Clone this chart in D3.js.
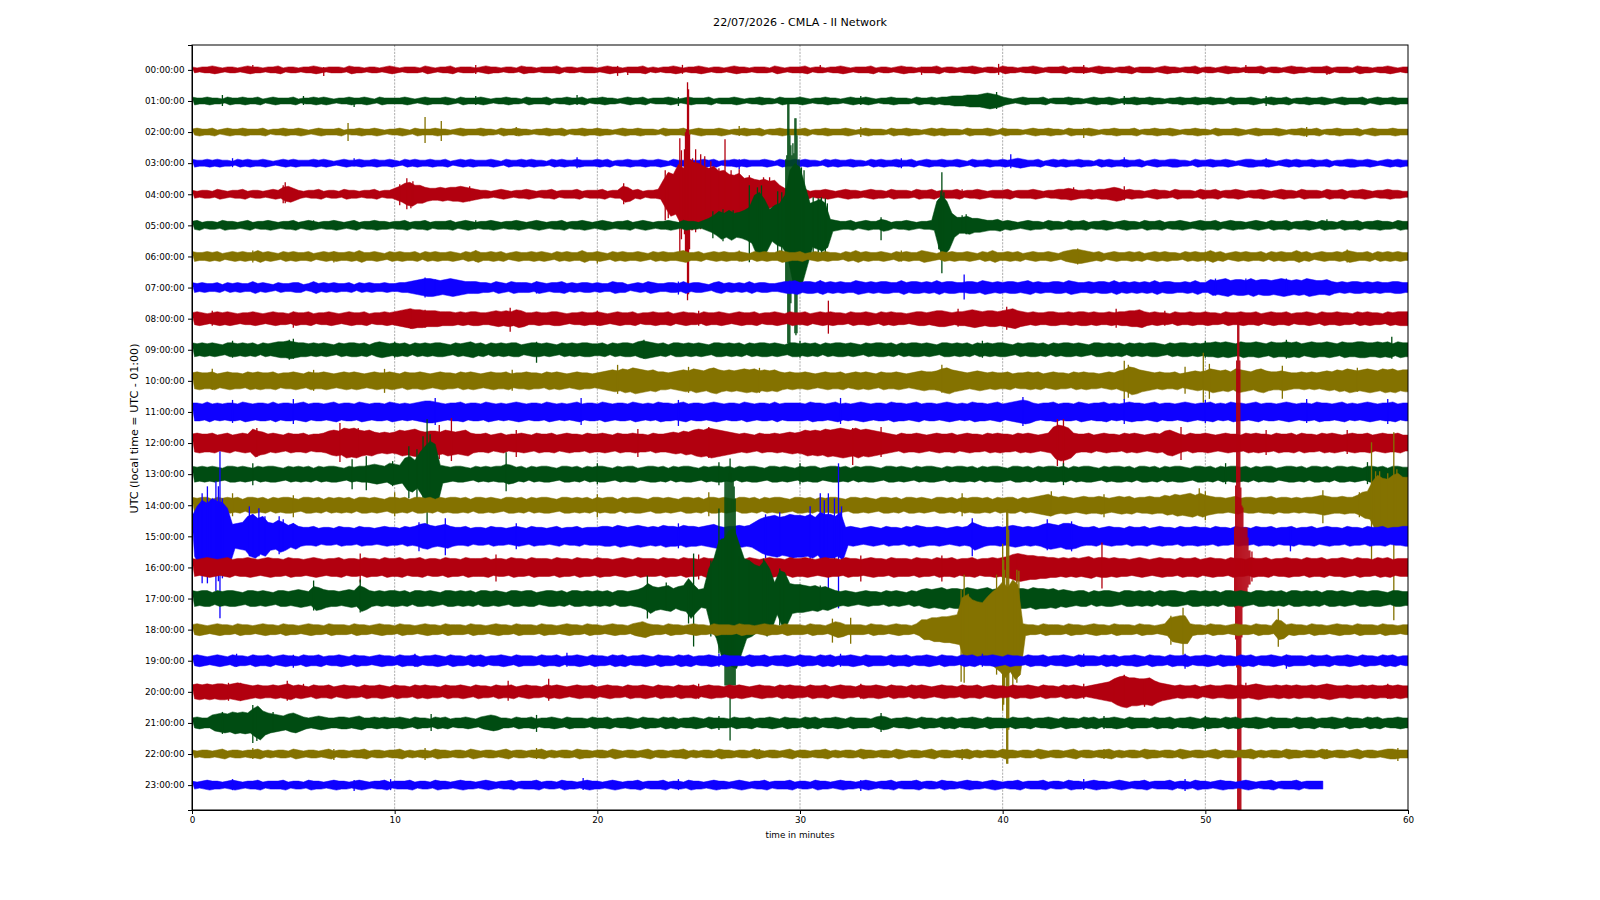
<!DOCTYPE html>
<html>
<head>
<title>CMLA dayplot</title>
<style>
	body { margin: 0; background: #fff; }
	text { font-family: "DejaVu Sans", sans-serif; fill: #000; }
	.tick line, .domain { stroke: #000; }
	.grid line { stroke: #9a9a9a; stroke-width: 0.8; stroke-dasharray: 2.2 1.2; }
</style>
</head>
<body>
<svg id="svg" width="1600" height="900"></svg>
<script src="https://d3js.org/d3.v7.min.js"></script>
<script>
const title = '22/07/2026 - CMLA - II Network'
const xLabel = 'time in minutes'
const yLabel = 'UTC (local time = UTC - 01:00)'
const hourLabels = ['00:00:00','01:00:00','02:00:00','03:00:00','04:00:00','05:00:00','06:00:00','07:00:00','08:00:00','09:00:00','10:00:00','11:00:00','12:00:00','13:00:00','14:00:00','15:00:00','16:00:00','17:00:00','18:00:00','19:00:00','20:00:00','21:00:00','22:00:00','23:00:00']
const minuteTicks = [0, 10, 20, 30, 40, 50, 60]
const traceColors = ['#B2000F', '#004C12', '#847200', '#0E01FF']

// half width of each hour's trace:
// one row per ten minutes, one value per quarter minute
const amp00 = [
[3,2,3,3,4,3,2,3,3,2,3,4,3,3,2,3,3,4,2,3,3,2,3,3,4,3,2,3,3,3,2,4,3,3,2,3,3,2,3,4],
[3,2,3,3,3,2,4,3,2,3,3,4,2,3,3,3,2,3,4,3,3,2,3,3,2,4,3,3,2,3,3,3,4,2,3,3,2,3,3,3],
[2,3,4,3,3,2,3,3,3,4,2,3,2,3,3,4,3,2,3,3,4,3,2,3,3,2,3,4,3,3,2,3,3,3,2,4,3,2,3,3],
[3,4,2,3,3,2,3,3,4,3,2,3,3,3,4,2,3,3,2,3,4,3,3,2,3,3,3,4,2,3,3,2,3,3,4,3,2,3,3,2],
[4,3,3,2,3,3,4,3,2,3,3,3,4,2,3,3,3,2,3,4,3,3,2,3,3,4,2,3,3,3,2,3,4,3,3,2,3,3,4,2],
[3,3,2,3,4,3,3,2,3,3,3,4,2,3,3,2,3,4,3,3,2,3,3,3,4,2,3,3,3,2,4,3,3,2,3,3,4,3,2,3]]
const amp01 = [
[4,3,3,4,3,3,2,4,3,3,4,3,3,4,2,3,4,3,3,3,4,2,3,3,4,3,4,3,2,3,3,4,3,3,4,3,2,4,3,3],
[3,3,4,3,2,3,4,3,3,3,4,3,2,4,3,3,3,4,3,2,3,3,4,3,3,2,4,3,3,3,4,2,3,3,4,3,3,4,2,3],
[3,4,3,3,2,3,4,3,3,4,2,3,3,3,4,3,2,3,4,3,3,3,4,2,3,3,3,4,3,2,3,3,4,3,3,2,4,3,3,3],
[4,3,2,3,3,4,3,3,2,3,4,3,3,4,3,2,3,3,4,3,3,3,2,4,3,3,4,3,4,4,5,5,5,6,6,6,7,8,7,6],
[4,3,2,3,4,3,3,3,4,2,3,3,3,4,3,3,2,3,4,3,3,4,3,2,3,3,4,3,3,4,3,3,2,3,3,4,3,3,4,3],
[3,4,3,3,2,4,3,3,3,4,3,2,3,4,3,3,4,2,3,3,4,3,3,4,3,2,3,4,3,3,3,4,2,3,4,3,3,4,3,3]]
const amp02 = [
[3,4,3,3,4,2,3,4,3,3,4,3,3,3,4,2,3,3,4,3,3,4,3,2,3,4,3,3,3,4,2,3,3,4,3,3,4,3,2,3],
[3,4,3,2,4,3,3,3,4,3,3,2,3,4,3,3,3,4,3,3,2,4,3,3,4,3,3,2,3,3,4,3,3,4,2,3,3,4,3,3],
[4,3,3,2,3,4,3,3,4,3,3,3,2,4,3,3,3,4,2,3,4,3,3,3,4,3,2,3,3,4,3,3,4,2,3,3,4,3,3,3],
[3,4,2,3,3,4,3,3,3,4,3,2,3,4,3,3,3,2,4,3,3,4,3,3,2,3,4,3,4,3,3,3,2,4,3,3,3,4,3,2],
[4,3,3,3,2,3,4,3,3,4,3,3,2,4,3,3,3,4,3,2,3,3,4,3,3,3,4,2,3,3,4,3,3,4,3,2,3,3,4,3],
[3,2,4,3,3,3,4,3,2,3,4,3,3,3,4,3,2,3,3,4,3,3,4,2,3,3,4,3,3,3,4,2,3,4,3,3,3,4,3,3]]
const amp03 = [
[4,3,3,4,3,4,3,3,2,4,3,4,3,3,4,3,2,3,4,3,4,3,3,3,4,3,4,3,2,3,4,3,3,4,3,3,4,3,3,4],
[3,2,4,3,4,3,3,4,3,3,4,2,3,4,3,4,3,3,3,4,3,2,4,3,3,4,3,4,3,3,2,4,3,4,3,3,4,3,3,3],
[4,3,4,2,3,3,4,3,3,4,3,3,4,3,2,4,3,3,4,3,3,4,3,4,2,3,3,4,3,4,3,3,3,4,3,2,4,3,3,4],
[3,4,3,3,2,4,3,4,3,3,4,3,3,2,4,3,4,3,3,4,3,3,4,2,3,4,3,3,4,3,3,4,3,2,4,3,3,4,3,3],
[4,3,4,5,4,3,3,4,2,3,4,3,4,3,3,4,3,3,2,4,3,4,3,3,4,3,3,4,2,3,4,3,3,4,4,3,3,2,4,3],
[3,4,3,3,4,3,2,3,4,4,3,3,4,3,2,3,4,3,4,3,3,4,3,3,4,2,3,3,4,4,3,3,4,3,2,3,4,3,4,3]]
const amp04 = [
[4,3,4,4,3,5,4,3,4,4,5,3,4,4,3,4,5,4,7,8,6,4,3,4,4,5,3,4,4,3,5,4,4,3,4,4,5,3,4,4],
[6,8,11,12,9,9,7,6,6,7,6,7,7,8,7,6,5,4,4,3,4,5,4,3,4,4,5,4,3,4,4,5,3,4,4,4,5,3,4,4],
[4,5,3,4,4,8,7,4,5,3,4,4,5,14,22,20,30,26,36,32,31,28,26,28,23,24,20,19,21,16,17,15,14,15,13,14,9,6,5,4],
[4,5,3,4,4,5,4,3,4,5,4,4,3,4,5,4,4,3,5,4,4,4,3,5,4,4,5,3,4,4,4,5,3,4,4,5,4,3,4,4],
[4,5,3,4,4,4,5,4,3,4,4,5,5,6,5,4,4,5,4,5,5,6,7,6,4,5,4,4,3,4,5,4,4,3,5,4,4,4,3,5],
[4,4,5,3,4,4,5,4,3,4,4,5,4,3,4,5,4,4,3,5,4,4,4,3,5,4,4,5,3,4,4,5,4,3,4,4,5,4,4,3]]
const amp05 = [
[4,5,3,4,4,3,5,4,4,3,4,5,3,4,4,5,4,3,4,4,5,3,4,5,4,3,4,4,5,4,3,4,5,3,4,4,5,4,4,3],
[4,4,5,3,4,4,5,3,4,4,4,5,3,4,5,4,3,4,4,5,4,3,4,4,5,4,3,4,5,4,3,4,4,5,3,4,4,5,4,3],
[4,5,4,3,4,4,5,3,4,5,4,3,4,4,5,4,3,5,4,4,3,5,7,10,14,12,15,12,13,15,18,30,33,26,16,20,22,30,55,62],
[58,40,22,24,26,22,6,5,4,4,5,3,4,5,4,4,6,5,3,4,4,5,4,3,4,4,5,24,30,24,12,8,8,9,7,7,6,5,5,6],
[4,5,4,3,4,5,4,4,3,5,4,4,3,5,4,4,5,3,4,4,5,4,3,4,5,4,4,3,5,4,4,5,3,4,4,5,4,3,4,5],
[4,4,5,3,4,5,4,4,3,4,5,4,3,5,4,4,5,3,4,4,5,4,3,5,4,4,3,5,4,4,5,3,4,4,5,4,4,3,5,4]]
const amp06 = [
[5,4,4,5,4,5,3,4,5,4,5,4,4,6,4,5,4,3,5,4,5,4,4,5,3,4,5,4,5,4,4,5,4,6,4,4,5,4,3,5],
[4,5,4,4,5,3,5,4,5,4,4,5,4,3,5,4,6,4,4,5,4,5,3,4,5,4,4,5,4,5,4,3,5,4,5,4,4,6,4,4],
[5,4,3,5,4,5,4,4,5,4,3,5,4,5,4,4,5,6,4,4,5,3,4,5,4,5,4,4,5,4,3,5,4,5,4,4,6,5,4,4],
[5,3,4,5,4,5,4,4,3,5,4,6,4,5,4,4,5,4,3,5,4,5,4,4,6,5,4,3,5,4,5,4,4,5,4,3,5,4,6,4],
[4,5,4,5,3,4,5,4,4,5,4,3,5,6,7,7,6,5,4,5,3,4,5,4,4,5,4,5,3,4,5,4,5,4,4,3,5,4,5,4],
[4,6,4,5,3,4,5,4,5,4,4,5,3,5,4,5,4,4,6,4,5,3,4,5,4,4,5,4,6,5,4,4,5,3,5,4,5,4,5,4]]
const amp07 = [
[5,4,5,4,4,5,3,5,4,5,4,4,6,4,5,4,3,5,4,4,5,5,3,4,6,4,5,4,5,4,4,5,3,5,4,5,4,4,5,4],
[4,5,5,6,7,8,9,9,8,7,8,9,8,7,6,6,6,5,5,4,6,5,4,6,5,5,5,4,6,5,4,5,5,6,4,5,4,5,5,4],
[5,4,4,6,5,5,3,4,5,4,6,5,4,4,5,5,4,6,4,5,5,4,3,5,6,4,5,4,5,4,6,4,5,5,4,4,5,6,6,7],
[5,6,6,5,7,5,6,5,6,5,5,7,6,5,6,5,6,6,5,5,7,5,6,6,5,6,5,7,5,6,6,5,5,6,6,5,7,6,5,6],
[5,6,6,5,6,7,5,6,5,5,6,6,5,7,6,5,5,6,5,6,6,5,7,5,6,5,6,5,6,5,7,5,6,6,5,5,6,5,7,5],
[5,8,7,8,9,7,8,8,7,9,7,8,8,7,8,9,8,7,8,7,9,8,7,7,8,6,5,6,5,6,6,5,6,5,6,5,5,6,6,5]]
const amp08 = [
[6,7,6,5,6,7,6,7,6,5,6,6,7,6,5,6,7,6,6,5,7,6,6,7,5,6,6,7,6,5,6,7,6,6,7,5,6,6,7,6],
[7,8,9,10,9,9,8,8,8,7,7,7,6,7,6,7,7,6,6,7,8,7,8,7,9,8,6,6,7,6,6,7,7,6,5,6,6,7,6,6],
[7,6,5,6,7,6,6,7,5,6,6,7,6,6,7,5,6,7,6,6,5,7,6,6,7,6,5,6,7,6,6,7,5,6,6,7,6,5,7,6],
[6,7,5,6,7,6,7,6,6,5,7,6,6,7,6,5,7,6,7,6,6,5,6,7,7,6,7,8,8,7,6,7,7,8,9,8,7,8,8,7],
[8,9,10,8,7,6,7,6,6,7,7,6,6,7,6,7,7,6,7,6,6,7,6,7,7,8,8,9,7,6,7,6,6,5,7,6,6,7,6,6],
[7,6,6,5,7,6,6,7,6,6,7,5,6,7,6,6,7,5,6,6,7,6,5,7,6,6,7,6,6,5,7,6,7,6,6,5,7,6,7,7]]
const amp09 = [
[7,6,7,6,7,6,5,7,7,6,7,6,7,5,7,6,7,8,8,9,8,7,7,6,7,6,7,6,5,7,6,7,7,6,7,5,7,8,7,6],
[7,6,7,5,7,6,7,6,7,7,6,5,7,6,7,8,6,7,5,7,6,7,6,7,7,5,6,7,7,6,7,6,5,7,6,7,6,7,7,6],
[6,7,5,7,6,7,7,6,8,9,8,7,6,7,5,7,7,6,7,6,7,6,5,7,7,6,7,6,7,5,7,6,7,7,6,7,6,5,7,7],
[6,7,6,7,5,7,6,7,7,6,7,6,5,7,6,7,7,6,7,5,7,6,7,7,6,7,6,5,7,7,6,7,6,7,5,7,6,7,6,7],
[7,6,5,7,6,7,7,6,7,5,7,6,7,7,6,7,6,5,7,7,6,7,6,7,5,7,6,7,6,7,7,6,5,7,6,7,7,6,7,6],
[7,7,8,7,8,7,6,8,7,7,8,7,6,8,7,7,8,7,8,6,7,8,7,7,8,7,6,8,7,7,8,8,7,7,8,7,8,6,8,7]]
const amp10 = [
[8,9,8,8,9,7,8,9,8,8,7,9,8,9,8,8,9,7,8,8,9,8,7,9,8,8,9,8,7,8,9,8,9,8,7,8,9,8,8,9],
[8,7,9,8,8,9,8,7,8,9,8,8,7,9,8,9,8,7,8,9,8,8,9,7,8,8,9,8,8,7,9,8,9,8,7,8,9,8,8,7],
[8,9,10,11,10,12,11,13,12,11,10,11,9,9,8,9,10,11,10,12,11,10,12,13,11,10,11,10,11,12,11,12,10,11,10,11,9,8,9,8],
[8,9,8,7,8,9,8,8,9,7,8,9,8,9,8,7,9,8,8,9,8,7,8,9,10,9,9,10,12,13,11,10,9,8,9,10,9,8,9,8],
[8,9,7,8,8,9,8,9,7,8,9,8,8,7,9,8,9,8,8,7,8,9,8,10,11,14,13,11,10,9,8,9,8,8,9,7,8,9,10,9],
[10,12,11,10,11,9,12,11,10,9,11,12,10,9,9,10,9,8,8,9,8,9,8,9,10,9,11,10,12,11,10,11,12,11,10,12,11,12,10,11]]
const amp11 = [
[9,9,8,10,8,9,8,9,9,8,10,9,8,9,9,8,10,8,9,9,8,9,10,8,9,9,8,9,10,8,9,9,8,10,9,8,9,9,8,10],
[9,8,9,8,9,10,11,11,10,9,8,9,9,10,8,9,9,8,10,9,8,9,8,9,10,9,8,9,9,8,10,9,8,9,8,9,10,8,9,9],
[8,10,9,8,9,9,8,10,9,8,9,8,10,9,9,8,9,10,8,9,9,8,9,10,9,8,9,9,8,10,9,8,9,9,8,10,8,9,9,9],
[9,8,10,9,9,8,9,10,8,9,8,9,10,9,8,9,9,8,10,9,9,8,9,10,8,9,9,8,9,10,9,8,9,8,10,9,9,8,9,10],
[8,9,10,11,12,11,9,8,9,9,10,8,9,9,8,10,9,8,9,9,10,8,9,8,9,10,9,9,8,9,10,8,9,9,8,9,10,9,8,9],
[9,10,8,9,8,10,9,9,8,9,10,8,9,9,8,9,10,9,8,9,9,8,10,9,9,8,9,10,8,9,8,9,10,9,8,9,9,10,8,9]]
const amp12 = [
[9,10,9,9,10,8,9,10,8,9,10,9,14,12,11,9,10,9,8,10,9,9,10,8,9,9,10,12,13,12,15,14,15,13,12,13,11,10,11,10],
[11,13,12,13,14,12,11,12,12,11,13,12,11,12,13,10,9,9,10,8,9,10,8,9,9,10,9,8,10,9,9,10,8,9,10,9,9,8,10,9],
[9,10,9,8,10,9,9,10,9,9,8,10,9,9,10,11,10,12,11,13,14,13,15,14,13,12,11,10,9,10,9,8,10,9,9,10,9,10,11,10],
[11,13,12,13,12,14,13,14,15,14,13,15,13,14,13,12,11,10,9,8,10,9,9,10,9,8,9,10,9,9,10,8,9,10,9,9,8,10,9,10],
[9,9,8,10,9,10,9,8,9,10,16,18,17,15,10,9,9,10,8,9,10,9,9,8,10,9,10,9,8,9,10,9,12,13,11,9,8,10,9,9],
[10,9,8,9,10,9,9,8,10,9,10,9,9,8,10,9,9,10,8,10,9,9,8,10,9,10,9,8,9,10,9,9,10,8,9,10,9,9,10,8]]
const amp13 = [
[8,7,8,7,8,7,6,8,8,7,8,7,6,8,7,8,8,7,6,8,7,8,7,8,6,8,7,8,8,7,6,8,7,8,8,9,10,9,8,11],
[10,9,16,18,14,22,28,33,30,9,8,7,8,8,7,6,8,7,8,7,8,8,10,9,7,8,6,8,7,8,8,7,6,8,8,7,8,6,8,7],
[8,8,7,6,8,7,8,8,6,7,8,8,7,8,6,8,7,8,8,7,6,8,7,8,8,7,8,6,8,7,8,8,7,6,8,8,7,8,7,6],
[8,7,8,8,6,7,8,8,7,8,6,8,7,8,8,7,6,8,8,7,8,7,6,8,7,8,8,7,6,8,7,8,8,7,8,6,8,7,8,8],
[7,6,8,8,7,8,6,8,7,8,8,7,8,6,8,7,8,8,7,6,8,7,8,8,7,8,6,8,8,7,8,6,8,7,8,8,7,6,8,8],
[7,8,6,8,7,8,8,7,8,6,8,7,8,8,6,7,8,8,7,8,6,8,8,7,8,6,8,8,7,8,7,6,8,8,7,8,6,8,8,7]]
const amp14 = [
[8,7,8,8,6,8,7,8,7,8,6,8,8,7,8,6,8,7,8,8,7,6,8,8,7,8,6,8,7,8,7,8,6,8,8,7,8,7,6,8],
[8,7,8,6,8,8,7,8,6,8,7,8,8,7,8,6,8,8,7,8,7,6,8,8,7,8,6,8,7,8,8,7,6,8,8,7,8,7,8,6],
[8,7,8,8,6,8,7,8,8,7,6,8,8,7,8,7,6,8,8,7,8,6,8,8,7,8,7,6,8,8,7,8,6,8,7,8,8,7,6,8],
[8,7,8,6,8,7,8,8,7,6,8,8,7,8,7,6,8,8,7,8,6,8,8,7,8,7,6,8,8,7,8,6,8,7,8,8,7,8,6,8],
[7,8,8,6,8,7,8,9,10,11,9,8,9,8,7,8,9,8,8,9,8,7,8,9,8,9,7,8,8,9,8,8,10,9,11,10,11,12,10,12],
[10,9,8,8,7,8,9,7,8,8,7,8,8,9,7,8,8,7,8,7,8,8,9,10,9,8,8,9,8,8,10,13,14,24,30,27,26,30,32,28]]
const amp15 = [
[20,30,36,33,38,35,34,28,12,13,14,20,22,18,20,14,13,16,14,11,13,10,9,9,10,8,9,9,8,10,9,9,8,10,9,9,8,9,10,9],
[9,8,10,9,10,12,13,11,10,11,12,10,9,9,10,8,9,9,8,10,9,9,8,9,10,9,8,10,9,9,8,9,10,8,9,9,10,8,9,9],
[9,10,10,9,11,10,9,10,11,10,9,10,9,11,10,10,9,11,10,10,9,10,11,12,10,9,10,10,11,10,11,14,17,19,20,21,19,20,22,21],
[21,20,22,19,24,22,22,20,24,9,10,9,8,9,10,9,8,10,9,9,8,10,9,11,10,9,9,10,9,8,9,10,9,10,14,12,10,9,9,10],
[9,10,11,10,9,10,9,10,12,13,12,11,13,13,12,10,9,9,10,8,9,10,9,9,8,10,9,9,10,8,9,10,9,9,8,10,9,9,10,9],
[9,8,10,9,9,8,10,9,9,8,10,9,9,10,8,9,9,10,8,9,9,10,8,9,10,9,9,8,10,9,9,8,10,9,9,10,8,9,9,10]]
const amp16 = [
[9,8,9,10,9,8,9,10,8,9,9,10,9,8,9,10,9,9,8,10,9,9,8,9,10,9,8,9,9,10,8,9,9,8,10,9,9,8,10,9],
[9,10,8,9,9,10,8,9,9,8,10,9,9,8,10,9,9,9,10,8,9,9,8,10,9,9,8,10,9,9,9,8,10,9,9,8,10,9,9,8],
[10,9,9,8,9,10,9,8,10,9,9,9,8,10,9,9,8,10,9,9,8,10,9,9,9,8,10,9,9,8,10,9,8,9,10,9,9,8,10,9],
[9,10,9,8,9,10,9,9,8,10,9,9,8,9,10,9,9,8,10,9,9,9,8,10,9,9,8,10,9,9,10,8,9,9,10,8,9,9,10,9],
[10,11,13,14,13,12,12,11,11,10,10,9,10,9,10,9,10,11,9,10,10,9,10,9,9,8,9,10,9,8,9,10,9,9,8,10,9,9,10,8],
[9,10,9,9,8,10,9,9,8,10,9,9,10,8,9,9,10,9,9,8,10,9,9,10,8,9,9,10,9,8,10,9,9,8,10,9,10,8,9,9]]
const amp17 = [
[8,7,8,8,6,8,7,8,8,7,6,8,8,7,8,7,6,8,8,7,8,9,8,7,12,11,9,8,8,7,8,9,8,13,11,8,7,8,7,8],
[8,7,8,6,8,8,7,8,7,6,8,8,7,8,7,8,6,8,8,7,8,7,6,8,8,7,8,8,6,7,8,8,7,8,6,8,8,7,8,7],
[8,7,8,6,8,8,7,8,9,11,15,12,11,12,13,10,12,13,20,14,9,10,30,40,58,60,68,70,55,40,38,34,32,38,30,16,28,26,15,14],
[14,13,12,13,11,12,10,8,7,8,7,6,7,8,7,7,6,8,7,8,7,6,8,7,9,10,9,10,11,9,10,10,9,11,10,9,10,11,9,10],
[10,11,9,10,10,9,11,10,10,9,10,8,9,8,7,8,8,6,8,7,8,8,7,6,8,8,7,8,7,8,6,8,7,8,8,7,6,8,8,7],
[8,7,8,6,8,8,7,8,7,6,8,8,7,8,7,8,6,8,8,7,8,7,8,6,8,8,7,8,7,6,8,8,7,8,8,7,6,8,8,7]]
const amp18 = [
[5,6,5,4,5,6,5,5,4,6,5,5,4,5,6,5,5,4,6,5,5,4,5,6,5,5,4,6,5,5,5,4,6,5,5,4,5,6,5,5],
[4,6,5,5,4,5,6,5,5,4,6,5,5,5,4,6,5,5,4,5,6,5,5,4,6,5,5,5,4,6,5,5,4,5,6,5,5,4,6,5],
[5,4,5,6,5,5,4,6,7,8,6,5,5,4,6,5,5,4,5,6,5,5,4,6,5,5,5,4,6,5,5,4,5,6,5,5,4,6,5,5],
[5,4,6,5,5,4,6,8,7,5,5,5,5,4,6,5,5,4,5,6,5,5,4,6,10,10,12,12,13,13,14,15,32,35,30,28,27,33,38,42],
[48,42,50,45,6,5,5,4,6,5,5,5,4,6,5,5,4,5,6,5,5,4,6,5,5,5,4,6,5,5,4,5,6,12,13,14,14,6,5,5],
[4,6,5,5,4,5,6,5,5,4,6,5,5,4,10,9,5,6,5,5,4,6,5,5,4,5,6,5,5,4,6,5,5,5,4,6,5,5,4,5]]
const amp19 = [
[5,6,5,4,5,6,5,4,6,5,5,4,6,5,5,6,4,5,6,5,5,4,6,5,5,6,4,5,5,6,5,4,6,5,5,4,5,6,5,5],
[4,6,5,5,6,4,5,5,6,5,4,6,5,5,4,6,5,6,4,5,5,6,5,4,6,5,5,5,4,6,5,5,6,4,5,5,6,5,4,6],
[5,5,4,6,5,6,4,5,5,6,5,4,6,5,5,4,6,5,6,4,5,5,6,5,4,6,5,5,5,4,6,5,5,6,4,5,5,6,5,4],
[6,5,5,4,6,5,6,4,5,5,6,5,4,6,5,5,5,4,6,5,5,6,4,5,5,6,5,4,6,5,5,4,6,5,6,4,5,5,6,5],
[4,6,5,5,4,6,5,5,6,4,5,5,6,5,4,6,5,5,5,4,6,5,6,4,5,5,6,5,4,6,5,5,4,6,5,5,6,4,5,5],
[6,5,4,6,5,5,4,6,5,6,4,5,5,6,5,4,6,5,5,5,4,6,5,5,6,4,5,5,6,5,4,6,5,5,4,6,5,6,4,5]]
const amp20 = [
[7,8,7,8,7,8,8,7,8,9,8,7,6,7,6,6,7,6,7,8,6,7,6,5,7,6,6,7,5,6,7,6,6,5,7,6,6,7,6,5],
[7,6,6,5,7,6,7,6,6,5,7,6,6,7,6,5,7,6,6,5,7,6,6,7,5,6,7,6,6,5,7,6,7,6,5,6,7,6,6,7],
[5,6,7,6,6,5,7,6,6,7,6,5,7,6,6,5,7,6,6,7,5,6,7,6,6,5,7,6,7,6,5,6,7,6,6,5,7,6,7,6],
[6,5,7,6,6,7,5,6,7,6,6,5,7,6,6,7,6,5,7,6,6,5,7,6,7,6,5,6,7,6,6,5,7,6,6,7,5,6,7,6],
[6,5,7,6,6,7,6,5,7,6,6,5,7,6,7,6,5,6,7,8,9,10,13,15,16,14,14,13,13,14,11,9,8,7,6,7,6,6,7,5],
[6,7,6,6,7,7,6,7,6,7,8,7,6,6,7,6,7,6,7,6,6,7,6,7,8,7,6,6,7,6,6,7,6,7,6,6,7,6,7,6]]
const amp21 = [
[5,6,5,5,8,9,10,9,11,10,11,10,14,17,12,10,9,8,7,9,10,8,6,5,6,7,6,5,5,6,6,5,6,7,5,5,6,5,6,5],
[5,6,5,4,6,5,5,4,6,5,6,4,5,5,6,5,4,6,7,8,7,5,5,4,6,5,5,6,4,5,5,6,5,4,6,5,5,5,4,6],
[5,5,6,4,5,5,6,5,4,6,5,5,4,6,5,6,4,5,5,6,5,4,6,5,5,5,4,6,5,5,6,4,5,5,6,5,4,6,5,5],
[4,6,5,6,4,5,5,6,5,4,6,5,5,5,4,6,7,6,4,5,5,6,5,4,6,5,5,4,6,5,6,4,5,5,6,5,4,6,5,5],
[5,4,6,5,5,6,4,5,5,6,5,4,6,5,5,4,6,5,6,4,5,5,6,5,4,6,5,5,5,4,6,5,5,6,4,5,5,6,5,4],
[6,5,5,4,6,5,6,4,5,5,6,5,4,6,5,5,5,4,6,5,5,6,4,5,5,6,5,4,6,5,5,4,6,5,6,4,5,5,6,5]]
const amp22 = [
[4,3,4,4,3,4,5,3,4,4,3,4,4,5,3,4,3,4,4,3,5,4,3,4,4,3,4,5,3,4,4,3,4,4,5,3,4,4,3,4],
[4,5,3,4,3,4,4,3,5,4,4,3,4,4,3,5,4,3,4,4,3,4,5,3,4,4,3,4,4,5,3,4,3,4,4,3,5,4,4,3],
[4,4,3,5,4,3,4,4,3,4,5,3,4,4,3,4,4,5,3,4,3,4,4,3,5,4,4,3,4,4,3,5,4,3,4,4,3,4,5,3],
[4,4,3,4,4,5,3,4,3,4,4,3,5,4,4,3,4,4,3,5,4,3,4,4,3,4,5,3,4,4,3,4,4,5,3,4,3,4,4,3],
[5,4,4,3,4,4,3,5,4,3,4,4,3,4,5,3,4,4,3,4,4,5,3,4,3,4,4,3,5,4,4,3,4,4,3,5,4,3,4,4],
[3,4,5,3,4,4,3,4,4,5,3,4,3,4,4,3,5,4,4,3,4,4,3,5,4,3,4,4,3,4,5,3,4,4,3,4,5,5,4,4]]
const amp23 = [
[4,3,4,5,4,4,3,4,5,4,3,4,4,5,3,4,4,4,5,3,4,4,3,5,4,4,3,4,5,4,4,3,4,5,4,3,4,4,5,3],
[4,4,4,5,3,4,4,3,5,4,4,3,4,5,4,4,3,4,5,4,3,4,4,5,3,4,4,4,5,3,4,4,3,5,4,4,3,4,5,4],
[4,3,4,5,4,3,4,4,5,3,4,4,4,5,3,4,4,3,5,4,4,3,4,5,4,4,3,4,5,4,3,4,4,5,3,4,4,4,5,3],
[4,4,3,5,4,4,3,4,5,4,4,3,4,5,4,3,4,4,5,3,4,4,4,5,3,4,4,3,5,4,4,3,4,5,4,4,3,4,5,4],
[3,4,4,5,3,4,4,4,5,3,4,4,3,5,4,4,3,4,5,4,4,3,4,5,4,3,4,4,5,3,4,4,4,5,3,4,4,3,5,4],
[4,3,4,5,4,4,3,4,5,4,3,4,4,5,3,4,4,4,5,3,4,4,4]]

// single peaks on each trace: [minute, up, down]
const spk00 = [[3,5,3],[6.5,3,6],[14,5,4],[21,4,6],[21.5,3,5],[24.2,5,4],[31,5,3],[36,3,5],[39.8,6,5],[44,5,4],[52,5,3],[56,3,5]]
const spk01 = [[1.5,6,5],[5.5,5,4],[8,3,6],[14,5,4],[19,6,4],[24,4,5],[33,5,4],[39.7,9,8],[46,5,4],[53,5,5]]
const spk02 = [[7.7,9,9],[11.5,15,11],[12.3,11,9],[16,5,4],[27,6,4],[33,5,5],[44,4,6],[55,5,5]]
const spk03 = [[2,5,4],[8,5,3],[19,6,5],[27,4,6],[35,5,5],[40.4,9,5],[46,6,4],[53,5,4]]
const spk04 = [[4.6,12,9],[4.5,9,9],[10.25,10,11],[10.6,16,15],[10.8,11,14],[10.9,13,11],[13.7,8,7],[21.3,11,10],[23.35,24,26],[23.5,21,24],[24.07,56,59],[24.15,44,45],[24.3,45,40],[24.35,62,60],[24.4,65,62],[24.45,112,106],[24.5,105,100],[24.55,60,55],[24.7,36,36],[24.85,45,38],[25.1,40,35],[25.3,38,28],[25.6,33,28],[26.0,26,22],[26.3,55,24],[26.6,24,18],[27.0,25,20],[27.5,19,15],[28.2,17,13],[28.5,17,14],[38,5,4],[43.5,7,5],[46,8,6]]
const spk05 = [[25.7,14,13],[26.2,16,16],[26.7,15,12],[27.5,40,37],[27.9,38,29],[28.1,40,27],[28.9,34,32],[29.1,33,32],[29.3,66,58],[29.35,70,62],[29.4,122,118],[29.45,122,120],[29.5,90,118],[29.55,80,78],[29.6,70,62],[29.65,82,65],[29.7,72,62],[29.75,107,108],[29.8,107,110],[29.85,90,108],[29.95,66,60],[30.07,58,55],[30.2,55,38],[30.65,28,27],[30.9,27,27],[31.06,28,28],[31.25,27,27],[31.35,22,22],[34,8,15],[36.85,26,24],[36.95,34,30],[37,53,48],[37.1,33,28],[37.5,11,7],[38,10,7],[38.2,11,9],[14,5,4],[6,5,4],[56,6,4]]
const spk06 = [[3,6,6],[7,5,6],[14,6,5],[20,5,7],[27,6,5],[35,6,5],[43.7,8,8],[50,5,6],[57,7,6]]
const spk07 = [[11.5,10,10],[12,8,8],[17,6,6],[24,6,7],[29.5,7,6],[31,7,6],[38.1,13,12],[50.5,9,8],[52,9,7],[54,9,8]]
const spk08 = [[1,8,7],[5,7,9],[10.8,10,10],[11.5,9,9],[15.7,11,13],[20,8,7],[25,8,7],[31.4,18,15],[37.8,10,8],[40.2,12,11],[45.6,10,9],[48,8,7]]
const spk09 = [[2,9,8],[4.8,10,10],[5,11,9],[10,8,8],[17,8,13],[22.3,10,9],[30,9,8],[39,9,8],[50,9,8],[54,10,9],[59.2,13,9]]
const spk10 = [[1,12,9],[6,11,10],[9.5,12,12],[15.8,11,10],[21,16,13],[24.5,14,12],[28,13,12],[37,16,12],[46,20,19],[46.2,16,17],[49,14,13],[49.9,28,22],[50.2,17,18],[53.8,15,18],[57.5,13,11]]
const spk11 = [[2,12,11],[5,13,12],[12,14,13],[19.2,14,13],[24,12,14],[32,14,12],[41,15,14],[46,13,12],[50,12,11],[55,13,11],[59,13,12]]
const spk12 = [[3.2,15,14],[7.3,20,19],[8.2,15,14],[12.8,25,18],[12.2,18,16],[16,13,14],[22,14,14],[25.5,16,15],[32.6,15,22],[34,16,14],[42.7,24,23],[43,24,24],[48.8,16,17],[53,13,12],[57,13,11]]
const spk13 = [[3,11,11],[7.9,15,15],[8.6,18,16],[9.9,13,12],[10.7,28,24],[11.1,25,25],[11.4,38,27],[11.6,55,55],[11.75,40,27],[15.5,22,17],[20,11,10],[26,12,11],[30,11,10],[43,11,11],[51,11,10],[58,12,10]]
const spk14 = [[2,12,11],[5,10,12],[10,13,11],[20,11,12],[25.5,13,11],[38,12,11],[42.4,14,10],[45,11,12],[49.7,17,11],[50,14,15],[55.8,15,18],[57.6,13,12],[58.2,63,58],[58.4,34,30],[58.6,34,26],[59,32,22],[59.3,73,115],[59.45,36,30],[59.8,28,22]]
const spk15 = [[0.3,30,26],[0.5,43,47],[0.76,50,47],[0.95,36,40],[1.18,55,55],[1.3,50,45],[1.38,85,82],[1.5,38,42],[2.83,30,20],[3.0,22,18],[3.3,28,20],[3.6,20,16],[4.3,20,18],[4.5,17,15],[5,13,10],[11.2,14,15],[12.5,18,19],[16,13,13],[24,13,12],[28.3,22,22],[29,24,20],[30.5,30,25],[31,43,30],[31.2,36,28],[31.4,43,52],[31.7,38,32],[31.9,73,72],[32.05,30,26],[38.5,18,20],[42.2,17,14],[43.4,15,15],[54.2,9,15]]
const spk16 = [[8.3,14,15],[15,13,14],[25,13,12],[33,12,14],[37,12,14],[40.7,13,15],[44.9,25,21],[51.45,40,40],[51.5,82,72],[51.55,207,100],[51.6,245,245],[51.65,245,245],[51.7,207,245],[51.75,80,245],[51.8,62,70],[51.85,60,40],[51.9,40,38],[51.95,40,36],[52,40,36],[52.05,40,25],[52.1,30,20],[52.15,17,17],[52.2,17,17],[52.3,16,14]]
const spk17 = [[6,18,12],[8.3,19,14],[22.47,23,20],[23.4,16,12],[24.5,15,25],[24.75,45,48],[25.6,38,38],[26,90,55],[26.15,60,55],[26.3,118,87],[26.35,118,87],[26.4,118,87],[26.45,118,87],[26.5,125,87],[26.55,140,142],[26.6,125,87],[26.65,118,87],[26.7,118,87],[26.75,112,87],[26.8,100,87],[27,42,32],[27.5,38,30],[28.2,40,32],[28.4,32,28],[29,30,27],[29.2,20,27],[30,14,12],[31,13,10]]
const spk18 = [[22.2,8,7],[31.6,11,13],[32.5,12,14],[37.95,40,52],[38.1,55,53],[38.3,36,28],[39.2,30,26],[39.7,55,45],[40,86,81],[40.05,70,75],[40.1,60,60],[40.2,120,134],[40.25,120,134],[40.3,100,100],[40.5,40,58],[40.7,60,53],[40.8,59,40],[48.3,14,15],[48.9,22,25],[53.6,21,17]]
const spk19 = [[2.2,7,6],[5,6,7],[11,7,6],[18.5,8,6],[26,7,6],[32,7,6],[39,7,6],[44,7,6],[49,7,8],[54,6,8]]
const spk20 = [[1.8,9,9],[2.4,9,9],[4.7,11,9],[5.5,8,6],[15.6,11,9],[17.6,13,9],[25,8,7],[33,8,7],[44,8,7],[45.5,12,11],[46,17,15],[47,13,15],[52,9,6],[59,8,7]]
const spk21 = [[1.5,11,11],[3,18,20],[3.2,15,18],[4,11,9],[11.8,9,8],[17,8,9],[26,7,7],[34,10,9],[45,7,6],[50,7,8]]
const spk22 = [[3,6,5],[7,5,6],[11.5,6,6],[17,6,5],[28,5,5],[38,5,6],[45,5,5],[56,5,5],[59.5,6,7]]
const spk23 = [[2,6,5],[8,5,6],[9.8,6,5],[19.3,7,5],[24,6,5],[33,5,6],[44,6,5],[49,6,6]]

const ampByHour = [amp00,amp01,amp02,amp03,amp04,amp05,amp06,amp07,amp08,amp09,amp10,amp11,amp12,amp13,amp14,amp15,amp16,amp17,amp18,amp19,amp20,amp21,amp22,amp23]
const spkByHour = [spk00,spk01,spk02,spk03,spk04,spk05,spk06,spk07,spk08,spk09,spk10,spk11,spk12,spk13,spk14,spk15,spk16,spk17,spk18,spk19,spk20,spk21,spk22,spk23]
const lastSample = 55.8 // the last hour stops here

const plotLeft = 192, plotRight = 1408, plotTop = 45, plotBottom = 810

const x = d3.scaleLinear().domain([0, 60]).range([plotLeft, plotRight])
const y = d3.scaleLinear().domain([-0.8, 23.8]).range([plotTop, plotBottom])
// amplitude counts to screen pixels
const a = d3.scaleLinear().domain([0, 30]).range([0, 30])

const svg = d3.select('#svg')

svg.append('clipPath').attr('id', 'plot')
	.append('rect')
	.attr('x', plotLeft).attr('y', plotTop)
	.attr('width', plotRight - plotLeft).attr('height', plotBottom - plotTop)

// grid under the traces
svg.append('g').attr('class', 'grid')
	.selectAll('line')
	.data(minuteTicks.slice(1, -1))
	.join('line')
	.attr('x1', d => x(d)).attr('x2', d => x(d))
	.attr('y1', plotTop).attr('y2', plotBottom)

const traces = svg.append('g').attr('clip-path', 'url(#plot)')

// later hours go on top of earlier ones
ampByHour.forEach((rows, hour) => {
	const end = hour === 23 ? lastSample : 60
	const color = traceColors[hour % 4]
	// every row starts at its own ten minute mark
	const points = rows.flatMap((row, r) => row.map((v, i) => [r * 10 + i * 0.25, v]))
	points.push([end, points[points.length - 1][1]])

	// lower edge sits half a sample later so the two edges don't mirror
	const band = d3.area()
		.x0(d => x(Math.min(d[0] + 0.125, end)))
		.x1(d => x(d[0]))
		.y0(d => y(hour) + a(d[1]))
		.y1(d => y(hour) - a(d[1]))

	const g = traces.append('g')
	g.append('path')
		.attr('d', band(points))
		.attr('fill', color)
		.attr('stroke', color)
		.attr('stroke-width', 0.5)

	g.selectAll('line')
		.data(spkByHour[hour])
		.join('line')
		.attr('x1', d => x(d[0])).attr('x2', d => x(d[0]))
		.attr('y1', d => y(hour) - a(d[1]))
		.attr('y2', d => y(hour) + a(d[2]))
		.attr('stroke', color)
		.attr('stroke-width', 1.3)
})

// axes
const xAxis = d3.axisBottom(x).tickValues(minuteTicks).tickSize(4).tickPadding(3)
const yAxis = d3.axisLeft(y)
	.tickValues(d3.range(24))
	.tickFormat(d => hourLabels[d])
	.tickSize(4).tickPadding(3.5)

svg.append('g').attr('transform', `translate(0,${plotBottom})`).call(xAxis)
	.call(g => g.selectAll('text').style('font-size', '8.8px'))
svg.append('g').attr('transform', `translate(${plotLeft},0)`).call(yAxis)
	.call(g => g.selectAll('text').style('font-size', '8.8px'))

svg.append('rect')
	.attr('x', plotLeft).attr('y', plotTop)
	.attr('width', plotRight - plotLeft).attr('height', plotBottom - plotTop)
	.attr('fill', 'none').attr('stroke', '#000').attr('stroke-width', 1)

svg.append('text')
	.attr('x', 800).attr('y', 26)
	.attr('text-anchor', 'middle')
	.style('font-size', '11.1px')
	.text(title)

svg.append('text')
	.attr('x', 800).attr('y', 838)
	.attr('text-anchor', 'middle')
	.style('font-size', '8.8px')
	.text(xLabel)

svg.append('text')
	.attr('transform', `translate(138,${(plotTop + plotBottom) / 2 + 1}) rotate(-90)`)
	.attr('text-anchor', 'middle')
	.style('font-size', '11.1px')
	.text(yLabel)
</script>
</body>
</html>
